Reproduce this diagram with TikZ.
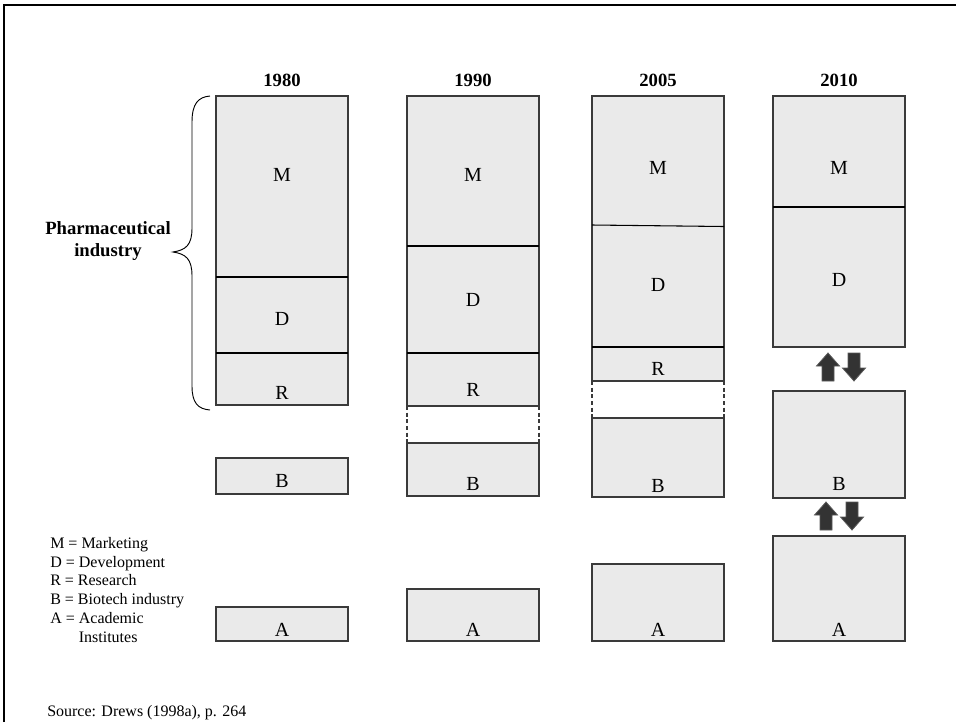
\documentclass[tikz,border=0pt]{standalone}
\usepackage{fontspec}
\setmainfont{Liberation Serif}
\definecolor{boxgray}{HTML}{EAEAEA}
\definecolor{boxedge}{HTML}{3A3A3A}
\definecolor{arrowfill}{HTML}{333333}
\definecolor{arrowedge}{HTML}{5A5A5A}
\begin{document}
\begin{tikzpicture}[x=0.75pt,y=-0.75pt,
  box/.style={fill=boxgray, draw=boxedge, line width=0.9pt},
  sepline/.style={draw=black, line width=0.8pt},
  gapside/.style={draw=boxedge, line width=0.9pt, dash pattern=on 3pt off 2pt},
  lbl/.style={font=\fontsize{15}{17}\selectfont, inner sep=0pt},
  yr/.style={font=\bfseries\fontsize{14}{16}\selectfont, inner sep=0pt},
  leg/.style={font=\fontsize{12}{14}\selectfont, anchor=base west, inner sep=0pt},
  blk/.style={fill=arrowfill, draw=arrowedge, line width=0.6pt},
  uparrow/.pic={\path[blk] (-6,14) -- (-6,-1) -- (-11.5,-1) -- (0,-14) -- (11.5,-1) -- (6,-1) -- (6,14) -- cycle;},
  downarrow/.pic={\path[blk] (-6,-14) -- (-6,1) -- (-11.5,1) -- (0,14) -- (11.5,1) -- (6,1) -- (6,-14) -- cycle;}
]
\useasboundingbox (0,0) rectangle (956,722);
% frame
\draw[line width=1.6pt] (4,722) -- (4,5) -- (956,5);

% years
\node[yr] (y1980) at (282,80) {1980};
\node[yr] (y1990) at (473,80) {1990};
\node[yr] (y2005) at (658,80) {2005};
\node[yr] (y2010) at (839,80) {2010};

% ---- 1980
\path[box] (216,96) rectangle (348,405);
\draw[sepline] (216,277) -- (348,277);
\draw[sepline] (216,353) -- (348,353);
\path[box] (216,458) rectangle (348,494);
\path[box] (216,607) rectangle (348,641);
\node[lbl] (m1) at (282,175) {M};
\node[lbl] (d1) at (282,319) {D};
\node[lbl] (r1) at (282,393) {R};
\node[lbl] (b1) at (282,481) {B};
\node[lbl] (a1) at (282,630) {A};

% ---- 1990
\path[box] (407,96) rectangle (539,406);
\draw[sepline] (407,246) -- (539,246);
\draw[sepline] (407,353) -- (539,353);
\path[box] (407,443) rectangle (539,496);
\draw[gapside] (407,406) -- (407,443);
\draw[gapside] (539,406) -- (539,443);
\path[box] (407,589) rectangle (539,641);
\node[lbl] (m2) at (473,175) {M};
\node[lbl] (d2) at (473,300) {D};
\node[lbl] (r2) at (473,390) {R};
\node[lbl] (b2) at (473,484) {B};
\node[lbl] (a2) at (473,630) {A};

% ---- 2005
\path[box] (592,96) rectangle (724,381);
\draw[sepline] (592,225) -- (724,226.5);
\draw[sepline] (592,347) -- (724,347);
\path[box] (592,418) rectangle (724,497);
\draw[gapside] (592,381) -- (592,418);
\draw[gapside] (724,381) -- (724,418);
\path[box] (592,564) rectangle (724,641);
\node[lbl] (m3) at (658,168) {M};
\node[lbl] (d3) at (658,285) {D};
\node[lbl] (r3) at (658,369) {R};
\node[lbl] (b3) at (658,486) {B};
\node[lbl] (a3) at (658,630) {A};

% ---- 2010
\path[box] (773,96) rectangle (905,347);
\draw[sepline] (773,207) -- (905,207);
\path[box] (773,391) rectangle (905,498);
\path[box] (773,536) rectangle (905,641);
\node[lbl] (m4) at (839,168) {M};
\node[lbl] (d4) at (839,280) {D};
\node[lbl] (b4) at (839,484) {B};
\node[lbl] (a4) at (839,630) {A};

% block arrows
\pic at (828,367) {uparrow};
\pic at (854,367) {downarrow};
\pic at (826,516) {uparrow};
\pic at (852,516) {downarrow};

% brace
\draw[line width=0.7pt] (210,96) .. controls (198,97) and (192,104) .. (192,122) -- (192,228)
  .. controls (192,245) and (186,250) .. (173,252)
  .. controls (186,254) and (192,259) .. (192,276) -- (192,386)
  .. controls (192,403) and (198,409) .. (210,410);
\node[font=\bfseries\fontsize{14}{16.5}\selectfont, align=center, inner sep=0pt] (pharma) at (108,241) {Pharmaceutical\\industry};

% legend
\node[leg] (l1) at (50,548) {M = Marketing};
\node[leg] (l2) at (50,567) {D = Development};
\node[leg] (l3) at (50,585) {R = Research};
\node[leg] (l4) at (50,604) {B = Biotech industry};
\node[leg] (l5) at (50,623) {A = Academic};
\node[leg] (l6) at (50,642) {\phantom{A = }Institutes};

% source
\node[leg] (src) at (47,716) {Source: Drews (1998a), p. 264};
\end{tikzpicture}
\end{document}
